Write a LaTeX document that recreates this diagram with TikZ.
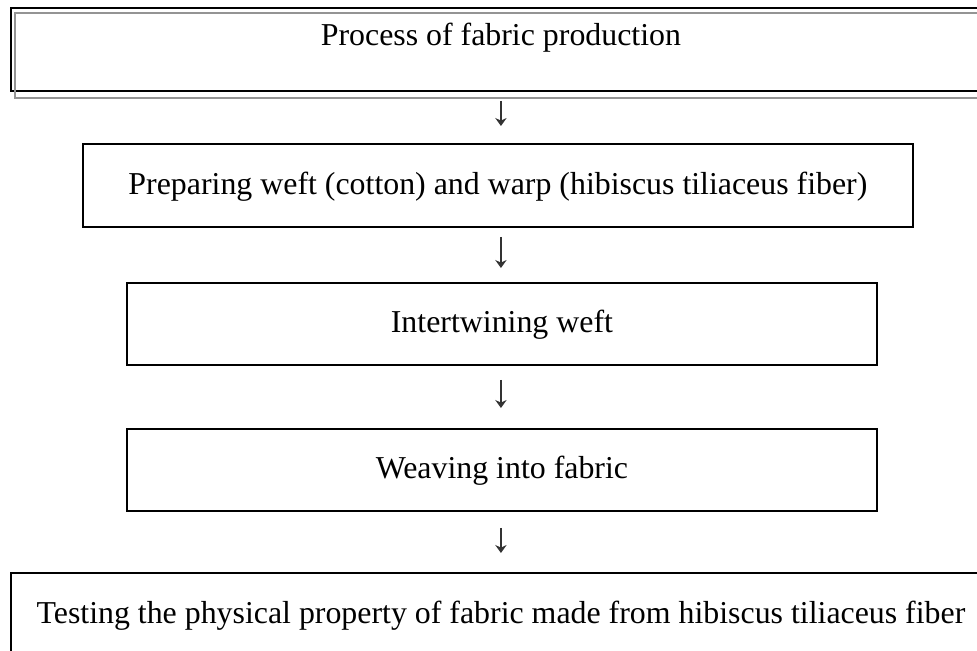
\documentclass[tikz,border=0pt]{standalone}
\usepackage{fontspec}
\setmainfont{Liberation Serif}
\usetikzlibrary{arrows.meta}
\begin{document}
\begin{tikzpicture}[
   x=1pt,y=-1pt,
   flowbox/.style={draw,line width=1.4pt,inner sep=0pt,anchor=north west,
     text height=18pt,text depth=5pt,font=\fontsize{23.9}{28}\selectfont},
   flowshadow/.style={draw=black!42,line width=1.2pt},
   flowarrow/.style={-{Stealth[length=6pt,width=8.5pt]},draw=black!80,line width=0.9pt}
 ]
 \useasboundingbox (0,0) rectangle (732.75,487.5);
 \clip (0,0) rectangle (732.75,487.5);
 % boxes, top to bottom, placed by their north west corners
 \node[flowbox,minimum width=735pt,minimum height=62.25pt,text height=16pt,text depth=22pt] (prod) at (7.5,5.25)
   {Process of fabric production};
 \draw[flowshadow] ([shift={(3.75pt,-4.5pt)}]prod.south west) rectangle ([shift={(3.75pt,-4.5pt)}]prod.north east);
 \node[flowbox,minimum width=622.5pt,minimum height=62.25pt] (prep) at (61.5,107.25)
   {Preparing weft (cotton) and warp (hibiscus tiliaceus fiber)};
 \node[flowbox,minimum width=562.5pt,minimum height=61.5pt] (twine) at (94.5,211.5)
   {Intertwining weft};
 \node[flowbox,minimum width=562.5pt,minimum height=61.5pt] (weave) at (94.5,321)
   {Weaving into fabric};
 \node[flowbox,minimum width=735pt,minimum height=62.25pt] (test) at (7.5,429)
   {Testing the physical property of fabric made from hibiscus tiliaceus fiber};
 % arrows between the steps
 \draw[flowarrow,shorten <=6.75pt,shorten >=12.75pt] (prod.south) -- (prod.south |- prep.north);
 \draw[flowarrow,shorten <=6.75pt,shorten >=10.5pt] (prod.south |- prep.south) -- (prod.south |- twine.north);
 \draw[flowarrow,shorten <=10.5pt,shorten >=15pt] (prod.south |- twine.south) -- (prod.south |- weave.north);
 \draw[flowarrow,shorten <=12pt,shorten >=14.25pt] (prod.south |- weave.south) -- (prod.south |- test.north);
\end{tikzpicture}
\end{document}
